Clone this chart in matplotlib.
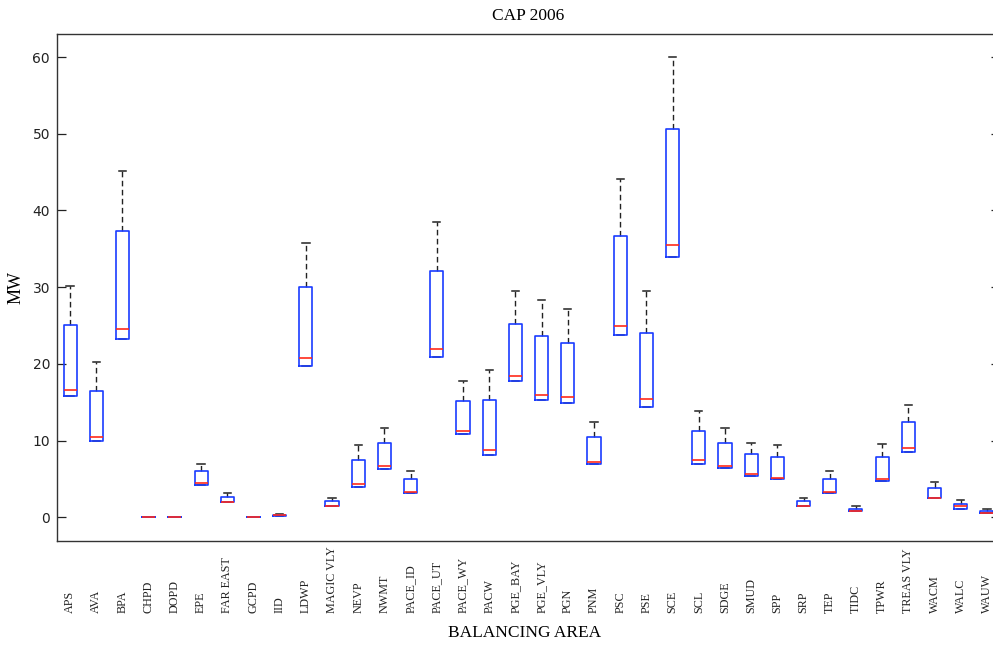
import numpy as np
import matplotlib
matplotlib.use('Agg')
import matplotlib.pyplot as plt
from matplotlib.transforms import blended_transform_factory

# balancing areas and box statistics (MW)
areas = ['APS', 'AVA', 'BPA', 'CHPD', 'DOPD', 'EPE', 'FAR EAST', 'GCPD', 'IID',
         'LDWP', 'MAGIC VLY', 'NEVP', 'NWMT', 'PACE_ID', 'PACE_UT', 'PACE_WY',
         'PACW', 'PGE_BAY', 'PGE_VLY', 'PGN', 'PNM', 'PSC', 'PSE', 'SCE', 'SCL',
         'SDGE', 'SMUD', 'SPP', 'SRP', 'TEP', 'TIDC', 'TPWR', 'TREAS VLY',
         'WACM', 'WALC', 'WAUW']
whisk_hi = [30.1, 20.2, 45.2, 0, 0, 7.0, 3.1, 0, 0.48, 35.8, 2.57, 9.4, 11.66,
            6.0, 38.5, 17.75, 19.2, 29.55, 28.3, 27.15, 12.44, 44.05, 29.55,
            60.05, 13.9, 11.66, 9.7, 9.36, 2.48, 6.0, 1.44, 9.53, 14.6, 4.53,
            2.2, 1.04]
q3 = [25.0, 16.45, 37.3, 0, 0, 6.0, 2.65, 0, 0.35, 30.0, 2.05, 7.44, 9.66,
      4.96, 32.15, 15.1, 15.27, 25.2, 23.65, 22.75, 10.44, 36.7, 24.06, 50.65,
      11.27, 9.7, 8.22, 7.8, 2.05, 4.96, 1.13, 7.8, 12.44, 3.83, 1.74, 0.87]
med = [16.6, 10.5, 24.5, 0, 0, 4.4, 1.92, 0, 0.26, 20.7, 1.44, 4.35, 6.62,
       3.35, 21.9, 11.3, 8.75, 18.45, 15.97, 15.67, 7.14, 24.97, 15.4, 35.55,
       7.44, 6.7, 5.7, 5.05, 1.44, 3.3, 0.87, 4.96, 8.97, 2.48, 1.4, 0.6]
q1 = [15.8, 9.96, 23.2, 0, 0, 4.18, 1.92, 0, 0.22, 19.7, 1.44, 3.92, 6.27,
      3.17, 20.85, 10.84, 8.1, 17.75, 15.27, 14.9, 6.92, 23.8, 14.36, 33.9,
      7.0, 6.4, 5.4, 5.0, 1.44, 3.17, 0.83, 4.66, 8.49, 2.48, 1.13, 0.5]

serif = ['Liberation Serif', 'DejaVu Serif']

stats = []
for i in range(len(areas)):
    stats.append({'med': med[i], 'q1': q1[i], 'q3': q3[i],
                  'whislo': q1[i], 'whishi': whisk_hi[i], 'fliers': []})

fig = plt.figure(figsize=(9.93, 6.45), dpi=100)
ax = fig.add_axes([57 / 993, 104 / 645, 943 / 993, 507 / 645])

pos = np.arange(1, len(areas) + 1)
ax.bxp(stats, positions=pos, widths=0.5, capwidths=0.28, showfliers=False,
       boxprops=dict(color='#1a3cff', lw=1.2, zorder=3),
       medianprops=dict(color='#ff2a1a', lw=1.2, zorder=4),
       whiskerprops=dict(color='#222222', lw=1.0, linestyle=(0, (4, 2.5)), zorder=2),
       capprops=dict(color='#222222', lw=1.1, zorder=2))

ax.set_xlim(0.5, len(areas) + 0.5)
ax.set_ylim(-3.1, 63.0)
ax.set_yticks([0, 10, 20, 30, 40, 50, 60])
ax.set_xticks([])
ax.tick_params(axis='y', direction='in', length=6.5, width=0.9, right=True,
               labelsize=10, colors='#222222', pad=5)
for s in ax.spines.values():
    s.set_color('#333333')
    s.set_linewidth(1.0)

# rotated area labels under the axis
trans = blended_transform_factory(ax.transData, ax.transAxes)
for p, name in zip(pos, areas):
    ax.text(p, -0.142, name, rotation=90, ha='center', va='bottom',
            transform=trans, fontsize=8.7, family=serif, color='#222222')

ax.set_title('CAP 2006', fontsize=12.5, family=serif, pad=10)
ax.set_ylabel('MW', fontsize=13, family=serif, labelpad=6)
fig.text(525 / 993, 1 - 633 / 645, 'BALANCING AREA', ha='center', va='center',
         fontsize=12.5, family=serif)

fig.savefig('out.png', dpi=100)
